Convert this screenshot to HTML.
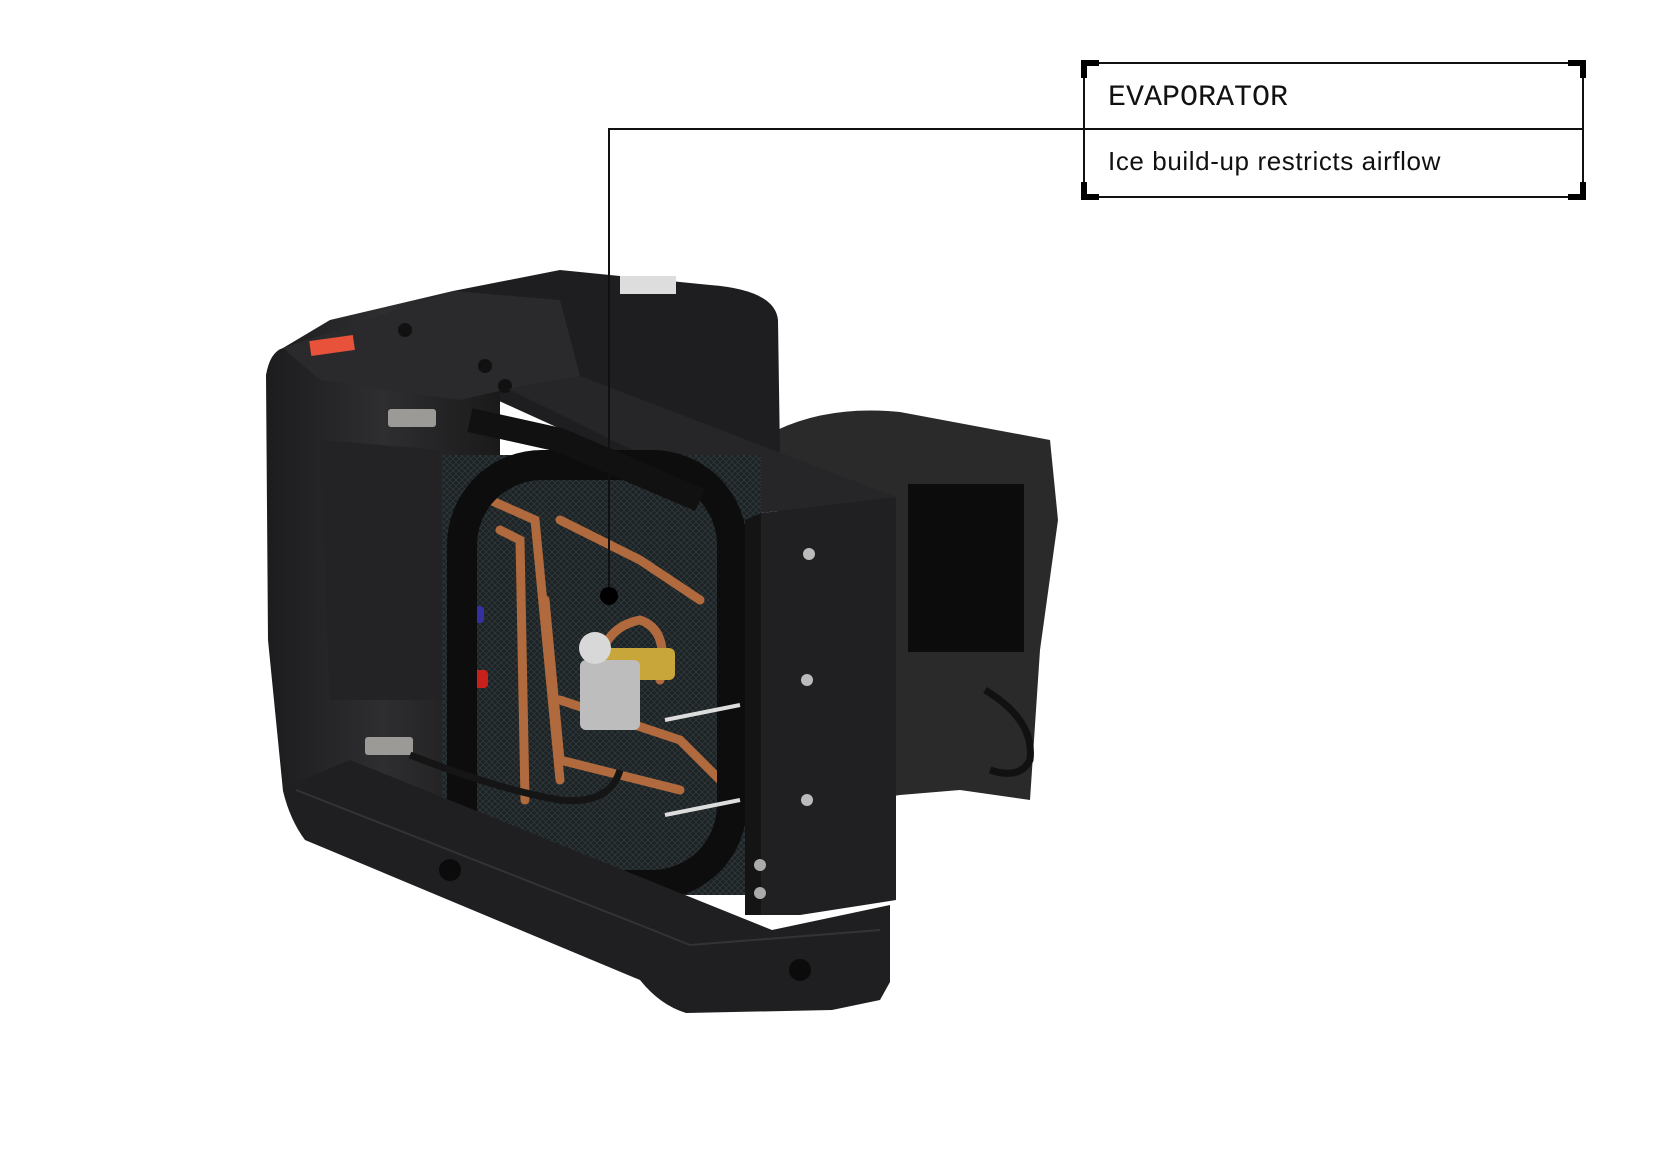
<!DOCTYPE html>
<html><head><meta charset="utf-8"><style>
html,body{margin:0;padding:0;background:#fff;width:1667px;height:1172px;overflow:hidden;position:relative}
svg{position:absolute;left:0;top:0}
.t1{position:absolute;left:1108px;top:79px;font-family:"Liberation Mono",monospace;font-size:30px;color:#111;line-height:38px;white-space:nowrap}
.t2{position:absolute;left:1108px;top:143px;font-family:"Liberation Sans",sans-serif;font-size:26px;color:#111;line-height:36px;white-space:nowrap;letter-spacing:0.6px}
</style></head><body>
<svg width="1667" height="1172" viewBox="0 0 1667 1172">
<defs>
<linearGradient id="body" x1="0" y1="0" x2="1" y2="0"><stop offset="0" stop-color="#1c1c1e"/><stop offset="0.5" stop-color="#2e2e30"/><stop offset="1" stop-color="#1a1a1b"/></linearGradient>
<pattern id="mesh" width="6" height="6" patternUnits="userSpaceOnUse"><rect width="6" height="6" fill="#1d2224"/><path d="M0 0L6 6M6 0L0 6" stroke="#2f3a3c" stroke-width="0.8"/></pattern>
</defs>
<path d="M777 430 Q830 405 900 412 L1050 440 L1058 520 L1040 650 L1030 800 L960 790 L900 795 L830 805 L780 800 Z" fill="#2b2a2a"/>
<rect x="908" y="484" width="116" height="168" fill="#0c0c0c"/>
<path d="M985 690 Q1035 720 1030 760 Q1020 780 990 770" stroke="#111" stroke-width="7" fill="none"/>
<path d="M453 291 L560 270 L710 285 Q775 290 778 320 L780 456 L620 456 L453 380 Z" fill="#1e1e20"/>
<rect x="620" y="276" width="56" height="18" fill="#ddd"/>
<path d="M283 348 Q270 352 266 375 L268 640 L283 791 L500 860 L500 390 L453 380 L453 291 L330 320 Z" fill="url(#body)"/>
<path d="M283 348 L453 291 L560 300 L580 376 L508 389 L460 400 L320 380 Z" fill="#2a2a2c"/>
<rect x="310" y="338" width="44" height="15" fill="#e8523a" transform="rotate(-8 332 345)"/>
<circle cx="405" cy="330" r="7" fill="#111"/><circle cx="485" cy="366" r="7" fill="#111"/><circle cx="505" cy="386" r="7" fill="#111"/>
<path d="M320 440 L440 450 L445 700 L330 700 Z" fill="#232325"/>
<path d="M508 389 L580 376 L896 497 L761 513 Z" fill="#262628"/>
<rect x="442" y="455" width="319" height="440" fill="url(#mesh)"/>
<g stroke="#b06a3d" stroke-width="9" fill="none" stroke-linecap="round">
<path d="M490 500 L535 520 L560 780"/>
<path d="M500 530 L520 540 L525 800"/>
<path d="M560 520 L640 560 L700 600"/>
<path d="M545 600 L560 760 L680 790"/>
<path d="M600 700 Q590 630 640 620 Q670 630 660 680"/>
<path d="M560 700 L680 740 L720 780"/>
</g>
<rect x="600" y="648" width="75" height="32" fill="#c9a63a" rx="6"/>
<rect x="580" y="660" width="60" height="70" fill="#bdbdbd" rx="6"/>
<circle cx="595" cy="648" r="16" fill="#d8d8d8"/>
<rect x="458" y="606" width="26" height="17" fill="#3530a0" rx="4"/>
<rect x="462" y="670" width="26" height="18" fill="#c8201c" rx="4"/>
<rect x="462" y="465" width="270" height="420" rx="80" fill="none" stroke="#0d0d0e" stroke-width="30"/>
<path d="M470 420 L560 440 L700 500" stroke="#111" stroke-width="24" fill="none"/>
<rect x="388" y="409" width="48" height="18" fill="#9c9a96" rx="3"/>
<rect x="365" y="737" width="48" height="18" fill="#9c9a96" rx="3"/>
<path d="M410 755 Q500 790 560 800 Q610 805 620 770" stroke="#151515" stroke-width="7" fill="none"/>
<path d="M665 815 L740 800" stroke="#ddd" stroke-width="4"/><path d="M665 720 L740 705" stroke="#ddd" stroke-width="4"/>
<path d="M761 513 L896 497 L896 900 L800 915 L761 915 Z" fill="#202022"/>
<path d="M745 520 L761 513 L761 915 L745 915 Z" fill="#141414"/>
<circle cx="809" cy="554" r="6" fill="#bbb"/><circle cx="807" cy="680" r="6" fill="#bbb"/><circle cx="807" cy="800" r="6" fill="#bbb"/>
<circle cx="760" cy="865" r="6" fill="#aaa"/><circle cx="760" cy="893" r="6" fill="#aaa"/>
<path d="M283 791 L296 783 L350 760 L772 930 L890 905 L890 982 L880 1000 L832 1010 L686 1013 Q660 1005 640 980 L305 840 Q290 820 283 791 Z" fill="#1f1f21"/>
<path d="M296 790 L640 925 L690 945 L880 930" stroke="#333" stroke-width="2" fill="none"/>
<circle cx="450" cy="870" r="11" fill="#0b0b0b"/><circle cx="800" cy="970" r="11" fill="#0b0b0b"/>
<path d="M609 596 L609 129 L1084 129" stroke="#111" stroke-width="2" fill="none"/>
<circle cx="609" cy="596" r="9" fill="#000"/>
<rect x="1084" y="63" width="499" height="134" fill="none" stroke="#111" stroke-width="2"/>
<line x1="1084" y1="129" x2="1583" y2="129" stroke="#111" stroke-width="2"/>
<g fill="#000">
<rect x="1081" y="60" width="18" height="6"/><rect x="1081" y="60" width="6" height="18"/>
<rect x="1568" y="60" width="18" height="6"/><rect x="1580" y="60" width="6" height="18"/>
<rect x="1081" y="194" width="18" height="6"/><rect x="1081" y="182" width="6" height="18"/>
<rect x="1568" y="194" width="18" height="6"/><rect x="1580" y="182" width="6" height="18"/>
</g>
</svg>
<div class="t1">EVAPORATOR</div>
<div class="t2">Ice build-up restricts airflow</div>
</body></html>
